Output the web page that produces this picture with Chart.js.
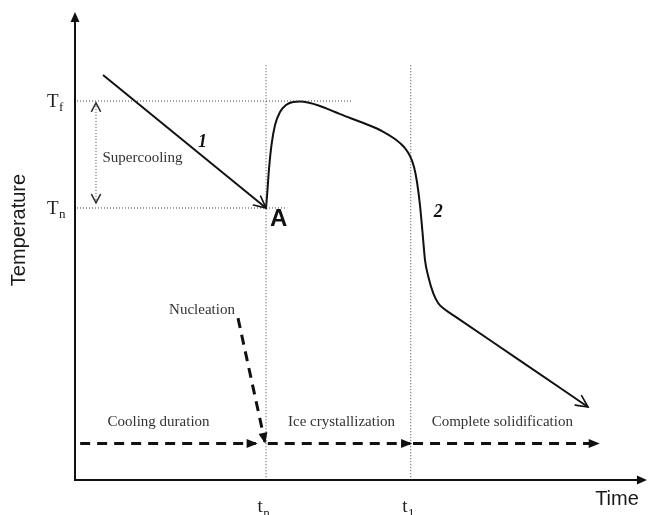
<!DOCTYPE html>
<html>
<head>
<meta charset="utf-8">
<script src="https://cdn.jsdelivr.net/npm/chart.js@4/dist/chart.umd.min.js"></script>
<style>
  html, body { margin: 0; padding: 0; background: #fff; }
  #wrap { width: 648px; height: 515px; position: relative; }
</style>
</head>
<body>
<div id="wrap"><canvas id="freezing"></canvas></div>
<script>
// Schematic freezing curve: temperature against time (arbitrary units 0-100)

// Curve 1: cooling of the liquid down to the nucleation point A
const coolingTime = [4.9, 33.4];
const coolingTemp = [87.1, 58.5];

// Curve 2: recalescence, ice crystallization plateau, then solidification
const freezeTime = [33.4, 33.65, 33.9, 34.35, 34.97, 35.84, 36.89, 38.11, 39.34, 40.73,
                    42.83, 45.45, 48.08, 50.87, 53.67, 55.94, 57.52, 58.57, 59.27, 59.79,
                    60.31, 60.75, 61.19, 61.77, 62.64, 63.51, 64.39, 66.43, 77.8, 89.69];
const freezeTemp = [58.5, 62.37, 66.67, 72.04, 76.34, 79.14, 80.65, 81.29, 81.4, 81.18,
                    80.43, 79.14, 77.85, 76.56, 75.05, 73.33, 71.61, 69.68, 67.31, 64.09,
                    59.14, 53.33, 47.31, 43.72, 40.15, 38.0, 36.92, 35.2, 25.68, 15.7];

// Characteristic temperatures (freezing point, nucleation temperature)
const tempTicks = [81.5, 58.5];
const tempTickMain = ['T', 'T'];
const tempTickSub = ['f', 'n'];

// Characteristic times (nucleation time, end of crystallization)
const timeTicks = [33.4, 58.7];
const timeTickMain = ['t', 't'];
const timeTickSub = ['n', '1'];

// Phases along the time axis
const phaseNames = ['Cooling duration', 'Ice crystallization', 'Complete solidification'];
const phaseStart = [0.9, 33.7, 59.1];
const phaseEnd = [31.6, 58.6, 91.4];
const phaseLevel = 7.85;

// Supercooling span and nucleation pointer
const supercoolTop = 81.1;
const supercoolBottom = 59.6;
const nucleationFrom = [28.5, 34.8];
const nucleationTo = [33.2, 8.2];

const zip = (xs, ys) => xs.map((x, i) => ({ x, y: ys[i] }));

const SERIF = '"Liberation Serif", "Times New Roman", serif';
const SANS = '"Liberation Sans", Arial, sans-serif';
const DOTTED = { borderColor: '#444', borderWidth: 1, borderDash: [1, 2] };
const DASHED = { borderColor: '#111', borderWidth: 3, borderDash: [10, 7] };

const datasets = [
  { data: [{ x: 0.35, y: tempTicks[0] }, { x: 48.4, y: tempTicks[0] }], ...DOTTED },
  { data: [{ x: 0.35, y: tempTicks[1] }, { x: 37.1, y: tempTicks[1] }], ...DOTTED },
  { data: [{ x: timeTicks[0], y: 89.2 }, { x: timeTicks[0], y: 0 }], ...DOTTED },
  { data: [{ x: timeTicks[1], y: 89.2 }, { x: timeTicks[1], y: 0 }], ...DOTTED },
  { data: [{ x: 3.67, y: supercoolTop }, { x: 3.67, y: supercoolBottom }], ...DOTTED,
    arrowEnd: 'open', arrowStart: 'open', arrowLen: 9.5, arrowAngle: 28, arrowColor: '#333' },
  { data: zip(coolingTime, coolingTemp), borderColor: '#111', borderWidth: 2,
    arrowEnd: 'open', arrowLen: 13, arrowAngle: 26 },
  { data: zip(freezeTime, freezeTemp), borderColor: '#111', borderWidth: 2,
    cubicInterpolationMode: 'monotone', arrowEnd: 'open', arrowLen: 13, arrowAngle: 26 },
  ...phaseNames.map((_, i) => ({
    data: [{ x: phaseStart[i], y: phaseLevel }, { x: phaseEnd[i], y: phaseLevel }], ...DASHED,
    arrowEnd: 'filled', arrowLen: 12, arrowAngle: 22
  })),
  { data: [{ x: nucleationFrom[0], y: nucleationFrom[1] }, { x: nucleationTo[0], y: nucleationTo[1] }],
    ...DASHED, arrowEnd: 'filled', arrowLen: 12, arrowAngle: 22 }
];

function drawHead(ctx, tip, from, style, len, angleDeg, color) {
  const a = Math.atan2(tip.y - from.y, tip.x - from.x);
  const h = angleDeg * Math.PI / 180;
  let tx = tip.x, ty = tip.y;
  if (style === 'filled') { tx += Math.cos(a) * 2; ty += Math.sin(a) * 2; }
  const p1 = { x: tx - len * Math.cos(a - h), y: ty - len * Math.sin(a - h) };
  const p2 = { x: tx - len * Math.cos(a + h), y: ty - len * Math.sin(a + h) };
  ctx.save();
  ctx.setLineDash([]);
  ctx.strokeStyle = color;
  ctx.fillStyle = color;
  ctx.beginPath();
  if (style === 'filled') {
    ctx.moveTo(tx, ty); ctx.lineTo(p1.x, p1.y); ctx.lineTo(p2.x, p2.y); ctx.closePath(); ctx.fill();
  } else {
    ctx.lineWidth = 1.6;
    ctx.lineCap = 'round';
    ctx.moveTo(p1.x, p1.y); ctx.lineTo(tx, ty); ctx.lineTo(p2.x, p2.y); ctx.stroke();
  }
  ctx.restore();
}

function drawSubLabel(ctx, main, sub, left, baseline, mainSize, subSize, subDrop, color) {
  ctx.save();
  ctx.fillStyle = color;
  ctx.textAlign = 'left';
  ctx.textBaseline = 'alphabetic';
  ctx.font = mainSize + 'px ' + SERIF;
  ctx.fillText(main, left, baseline);
  const w = ctx.measureText(main).width;
  ctx.font = subSize + 'px ' + SERIF;
  ctx.fillText(sub, left + w + 0.5, baseline + subDrop);
  ctx.restore();
}

const annotations = [
  { text: 'Supercooling', x: 11.8, y: 69.3, font: '15px ' + SERIF, color: '#333' },
  { text: 'Nucleation', x: 22.2, y: 36.6, font: '15px ' + SERIF, color: '#333' },
  { text: phaseNames[0], x: 14.6, y: 12.4, font: '15px ' + SERIF, color: '#333' },
  { text: phaseNames[1], x: 46.6, y: 12.4, font: '15px ' + SERIF, color: '#333' },
  { text: phaseNames[2], x: 74.7, y: 12.4, font: '15px ' + SERIF, color: '#333' },
  { text: '1', x: 22.3, y: 72.6, font: 'italic bold 18px ' + SERIF, color: '#111' },
  { text: '2', x: 63.5, y: 57.6, font: 'italic bold 18px ' + SERIF, color: '#111' },
  { text: 'A', x: 35.6, y: 56.0, font: 'bold 24px ' + SANS, color: '#111' }
];

const sketchPlugin = {
  id: 'sketch',
  afterDatasetsDraw(chart) {
    const { ctx, scales: { x: xs, y: ys } } = chart;
    const X = v => xs.getPixelForValue(v);
    const Y = v => ys.getPixelForValue(v);

    // axes with arrow tips
    const x0 = X(0), y0 = Y(0), xEnd = X(100), yEnd = Y(100);
    ctx.save();
    ctx.strokeStyle = '#111';
    ctx.lineWidth = 2;
    ctx.setLineDash([]);
    ctx.beginPath();
    ctx.moveTo(x0, y0 + 1); ctx.lineTo(x0, yEnd + 4);
    ctx.moveTo(x0 - 1, y0); ctx.lineTo(xEnd - 4, y0);
    ctx.stroke();
    ctx.restore();
    drawHead(ctx, { x: x0, y: yEnd - 1 }, { x: x0, y: y0 }, 'filled', 11, 24, '#111');
    drawHead(ctx, { x: xEnd - 2, y: y0 }, { x: x0, y: y0 }, 'filled', 11, 24, '#111');

    // arrowheads on flagged datasets
    chart.data.datasets.forEach((ds, i) => {
      const pts = chart.getDatasetMeta(i).data;
      const color = ds.arrowColor || ds.borderColor;
      if (ds.arrowEnd) {
        const n = pts.length;
        drawHead(ctx, pts[n - 1], pts[n - 2], ds.arrowEnd, ds.arrowLen, ds.arrowAngle, color);
      }
      if (ds.arrowStart) {
        drawHead(ctx, pts[0], pts[1], ds.arrowStart, ds.arrowLen, ds.arrowAngle, color);
      }
    });

    // tick labels with subscripts
    tempTicks.forEach((v, i) => {
      drawSubLabel(ctx, tempTickMain[i], tempTickSub[i], x0 - 28, Y(v) + 6, 19, 13, 4, '#222');
    });
    timeTicks.forEach((v, i) => {
      drawSubLabel(ctx, timeTickMain[i], timeTickSub[i], X(v) - 8.5, 512, 19, 13, 5, '#222');
    });

    // annotations
    ctx.save();
    ctx.textAlign = 'center';
    ctx.textBaseline = 'middle';
    annotations.forEach(a => {
      ctx.font = a.font;
      ctx.fillStyle = a.color;
      ctx.fillText(a.text, X(a.x), Y(a.y));
    });
    ctx.restore();

    // axis titles
    ctx.save();
    ctx.fillStyle = '#1a1a1a';
    ctx.font = '20px ' + SANS;
    ctx.textAlign = 'center';
    ctx.textBaseline = 'middle';
    ctx.fillText('Time', 617, 499);
    ctx.translate(19, 230);
    ctx.rotate(-Math.PI / 2);
    ctx.fillText('Temperature', 0, 0);
    ctx.restore();
  }
};

new Chart(document.getElementById('freezing'), {
  type: 'scatter',
  data: { datasets: datasets.map(d => ({ showLine: true, pointRadius: 0, fill: false, clip: false, ...d })) },
  options: {
    responsive: true,
    maintainAspectRatio: false,
    animation: false,
    events: [],
    layout: { padding: { left: 75, right: 1, top: 15, bottom: 35 } },
    plugins: { legend: { display: false }, tooltip: { enabled: false } },
    scales: {
      x: { type: 'linear', min: 0, max: 100, display: false },
      y: { type: 'linear', min: 0, max: 100, display: false }
    }
  },
  plugins: [sketchPlugin]
});
</script>
</body>
</html>
